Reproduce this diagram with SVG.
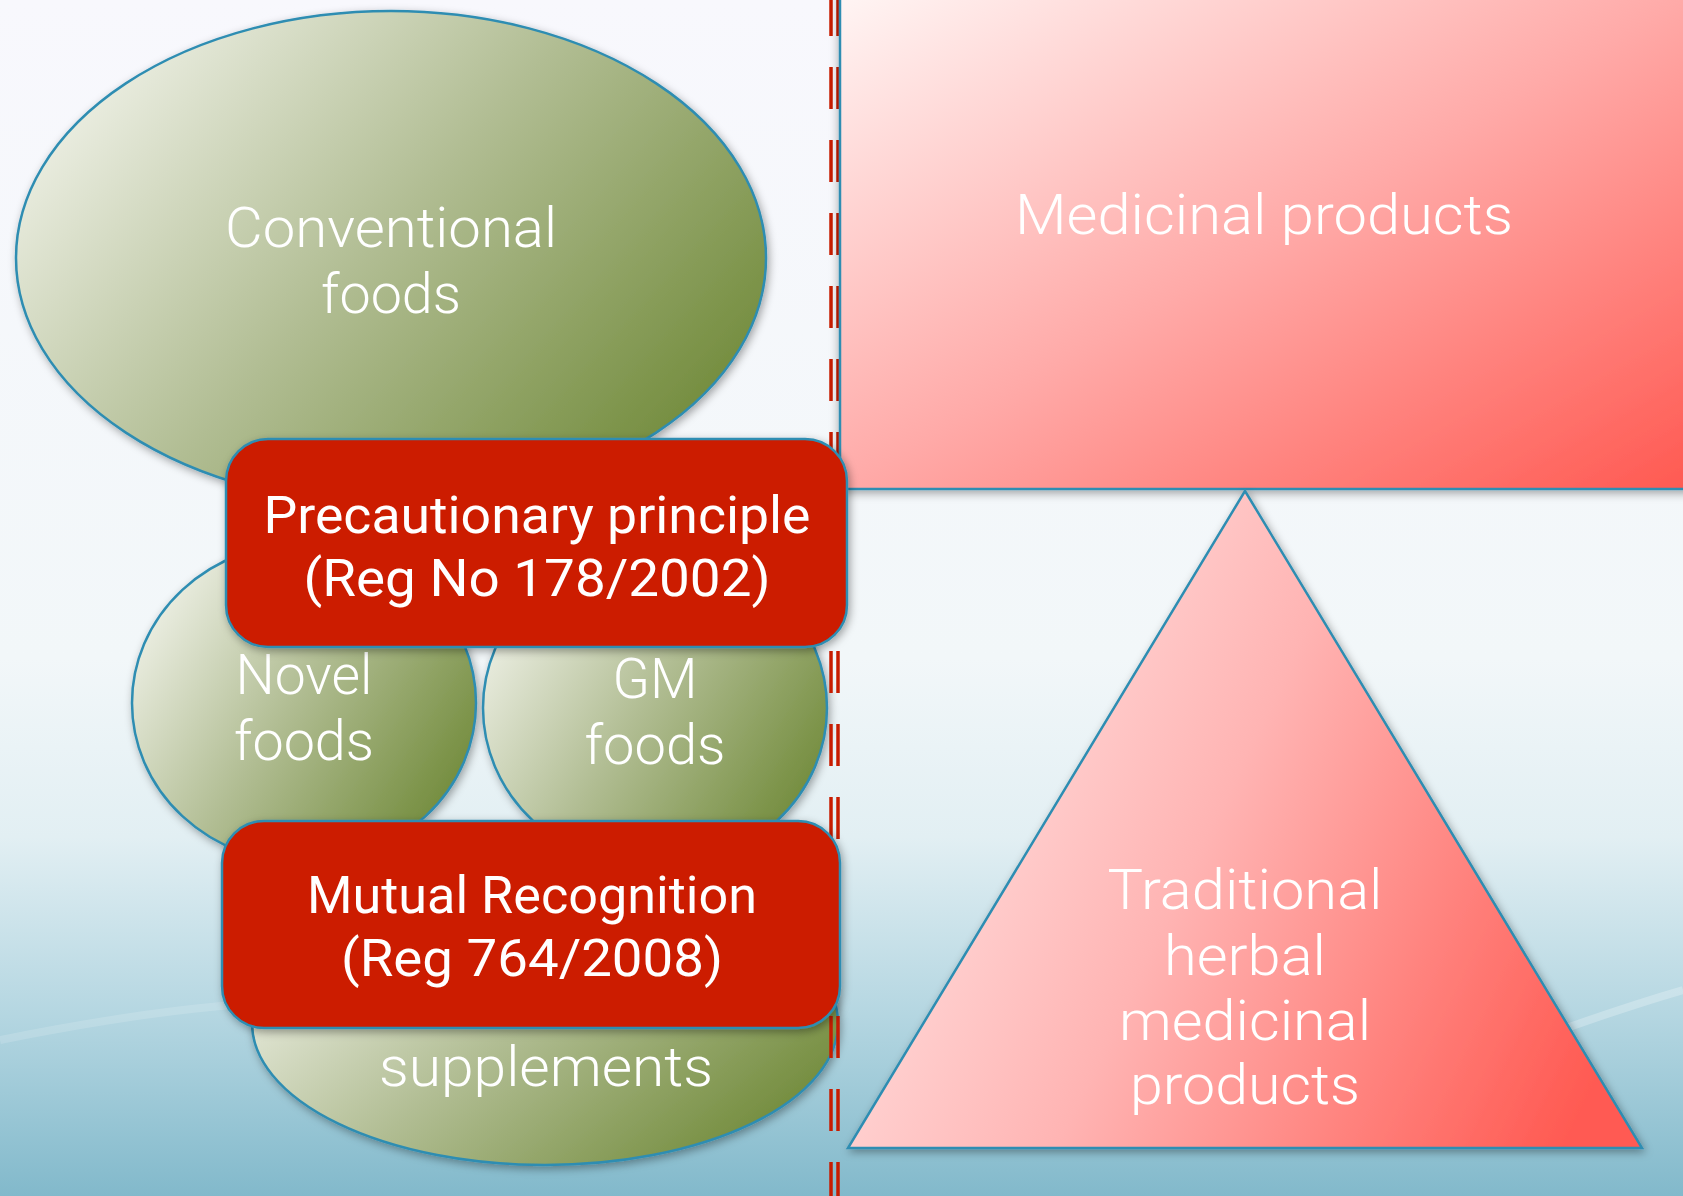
<svg xmlns="http://www.w3.org/2000/svg" width="1683" height="1196" viewBox="0 0 1683 1196">
<style>
.lbl{font-family:"Roboto","Liberation Sans",sans-serif;font-weight:300;fill:#ffffff;text-anchor:middle}
.big{font-size:56px}
.box{font-size:52px;font-weight:400}
.edge{stroke:#2e8db2;stroke-width:2.5}
</style>
<defs>
<linearGradient id="bg" x1="0" y1="0" x2="0" y2="1">
<stop offset="0" stop-color="#f8f8fd"/>
<stop offset="0.55" stop-color="#f2f7f9"/>
<stop offset="0.7" stop-color="#e2eff3"/>
<stop offset="0.85" stop-color="#b4d6e1"/>
<stop offset="1" stop-color="#82b9cb"/>
</linearGradient>
<linearGradient id="green" x1="0" y1="0.25" x2="1" y2="0.85">
<stop offset="0" stop-color="#eff1e7"/>
<stop offset="0.45" stop-color="#b1bd93"/>
<stop offset="1" stop-color="#6a8530"/>
</linearGradient>
<linearGradient id="pinkRect" x1="0" y1="0" x2="1" y2="1">
<stop offset="0" stop-color="#fff6f5"/>
<stop offset="0.5" stop-color="#ffaaa8"/>
<stop offset="1" stop-color="#ff5850"/>
</linearGradient>
<linearGradient id="pinkTri" x1="0" y1="0.35" x2="1" y2="0.75">
<stop offset="0" stop-color="#ffe8e8"/>
<stop offset="0.45" stop-color="#ffb4b3"/>
<stop offset="1" stop-color="#ff5a52"/>
</linearGradient>
<filter id="sh" x="-10%" y="-10%" width="125%" height="125%">
<feDropShadow dx="2" dy="3" stdDeviation="4" flood-color="#000" flood-opacity="0.35"/>
</filter>
<filter id="glow" x="-5%" y="-5%" width="110%" height="115%">
<feDropShadow dx="0" dy="3" stdDeviation="5" flood-color="#000" flood-opacity="0.35"/>
</filter>
</defs>
<rect x="0" y="0" width="1683" height="1196" fill="url(#bg)"/>
<path d="M1350,1110 C1480,1060 1580,1020 1683,990" fill="none" stroke="#ffffff" stroke-opacity="0.25" stroke-width="8"/>
<path d="M0,1040 C150,1010 250,1000 350,1000" fill="none" stroke="#ffffff" stroke-opacity="0.15" stroke-width="8"/>

<g id="conventional-foods">
<ellipse cx="391" cy="258" rx="375" ry="247" fill="url(#green)" class="edge" filter="url(#sh)"/>
<text class="lbl big" x="391" y="247" textLength="332" lengthAdjust="spacingAndGlyphs">Conventional</text>
<text class="lbl big" x="391" y="313" textLength="140" lengthAdjust="spacingAndGlyphs">foods</text>
</g>
<g id="novel-foods">
<ellipse cx="304" cy="703" rx="172" ry="160" fill="url(#green)" class="edge" filter="url(#sh)"/>
<text class="lbl big" x="304" y="694" textLength="137" lengthAdjust="spacingAndGlyphs">Novel</text>
<text class="lbl big" x="304" y="760" textLength="140" lengthAdjust="spacingAndGlyphs">foods</text>
</g>
<g id="gm-foods">
<ellipse cx="655" cy="708" rx="172" ry="160" fill="url(#green)" class="edge" filter="url(#sh)"/>
<text class="lbl big" x="655" y="698" textLength="85" lengthAdjust="spacingAndGlyphs">GM</text>
<text class="lbl big" x="655" y="764" textLength="141" lengthAdjust="spacingAndGlyphs">foods</text>
</g>
<g id="food-supplements">
<ellipse cx="545" cy="1023" rx="293" ry="142" fill="url(#green)" class="edge" filter="url(#sh)"/>
<text class="lbl big" x="546" y="1086" textLength="334" lengthAdjust="spacingAndGlyphs">supplements</text>
</g>

<g id="connectors">
<line x1="831" y1="-6" x2="831" y2="1196" stroke="#c81c00" stroke-width="3.5" stroke-dasharray="42 31"/>
<line x1="838" y1="-6" x2="838" y2="1196" stroke="#c81c00" stroke-width="3.5" stroke-dasharray="42 31"/>
</g>

<g id="medicinal-products">
<rect x="840" y="-10" width="860" height="499" fill="url(#pinkRect)" class="edge" filter="url(#glow)"/>
<text class="lbl big" x="1264" y="234" textLength="498" lengthAdjust="spacingAndGlyphs">Medicinal products</text>
</g>
<g id="traditional-herbal">
<polygon points="1245,491 1642,1148 848,1148" fill="url(#pinkTri)" class="edge" stroke-linejoin="miter" filter="url(#sh)"/>
<text class="lbl big" x="1245" y="909" textLength="275" lengthAdjust="spacingAndGlyphs">Traditional</text>
<text class="lbl big" x="1245" y="975" textLength="162" lengthAdjust="spacingAndGlyphs">herbal</text>
<text class="lbl big" x="1245" y="1040" textLength="252" lengthAdjust="spacingAndGlyphs">medicinal</text>
<text class="lbl big" x="1245" y="1104" textLength="230" lengthAdjust="spacingAndGlyphs">products</text>
</g>

<g id="precautionary-principle">
<rect x="226" y="439" width="621" height="208" rx="42" fill="#cc1c00" class="edge" filter="url(#sh)"/>
<text class="lbl box" x="537" y="533" textLength="547" lengthAdjust="spacingAndGlyphs">Precautionary principle</text>
<text class="lbl box" x="537" y="596" textLength="467" lengthAdjust="spacingAndGlyphs">(Reg No 178/2002)</text>
</g>
<g id="mutual-recognition">
<rect x="222" y="821" width="618" height="207" rx="42" fill="#cc1c00" class="edge" filter="url(#sh)"/>
<text class="lbl box" x="532" y="913" textLength="450" lengthAdjust="spacingAndGlyphs">Mutual Recognition</text>
<text class="lbl box" x="532" y="976" textLength="382" lengthAdjust="spacingAndGlyphs">(Reg 764/2008)</text>
</g>
</svg>
